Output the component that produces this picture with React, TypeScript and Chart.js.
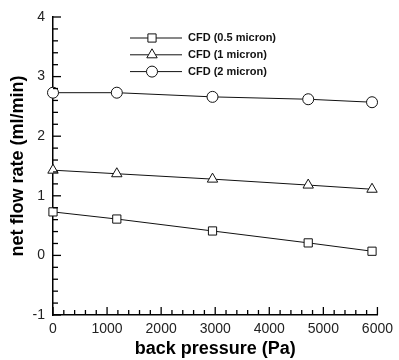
import { useEffect, useRef } from 'react';
import { Chart, registerables } from 'chart.js';

Chart.register(...registerables);

// ---- data ----
const pressures = [0, 1180, 2950, 4720, 5900];
const flow05 = [0.73, 0.61, 0.41, 0.21, 0.07];
const flow1 = [1.43, 1.37, 1.28, 1.18, 1.11];
const flow2 = [2.73, 2.73, 2.66, 2.62, 2.57];
const seriesLabels = ['CFD (0.5 micron)', 'CFD (1 micron)', 'CFD (2 micron)'];
const seriesMarkers = ['rect', 'triangle', 'circle'];
const markerRadius = [5.8, 6, 5.5];
const xTitle = 'back pressure (Pa)';
const yTitle = 'net flow rate (ml/min)';

const FONT = "'Liberation Sans', Arial, Helvetica, sans-serif";

function drawMarker(ctx: CanvasRenderingContext2D, style: string, x: number, y: number, r: number) {
  ctx.beginPath();
  if (style === 'circle') {
    ctx.arc(x, y, r, 0, Math.PI * 2);
  } else if (style === 'rect') {
    const s = Math.SQRT1_2 * r;
    ctx.rect(x - s, y - s, 2 * s, 2 * s);
  } else {
    let a = 0;
    ctx.moveTo(x + Math.sin(a) * r, y - Math.cos(a) * r);
    a += (2 * Math.PI) / 3;
    ctx.lineTo(x + Math.sin(a) * r, y - Math.cos(a) * r);
    a += (2 * Math.PI) / 3;
    ctx.lineTo(x + Math.sin(a) * r, y - Math.cos(a) * r);
    ctx.closePath();
  }
  ctx.fillStyle = '#fff';
  ctx.fill();
  ctx.stroke();
}

const innerTicks = {
  id: 'innerTicks',
  afterDraw(chart: any) {
    const ctx = chart.ctx;
    const { left, bottom } = chart.chartArea;
    const xs = chart.scales.x;
    const ys = chart.scales.y;
    ctx.save();
    ctx.strokeStyle = '#000';
    ctx.lineWidth = 1.3;
    xs.ticks.forEach((t: any) => {
      const px = xs.getPixelForValue(t.value);
      const major = Math.abs(t.value / 1000 - Math.round(t.value / 1000)) < 1e-6;
      const len = major ? 8 : 5;
      ctx.beginPath();
      ctx.moveTo(px, bottom);
      ctx.lineTo(px, bottom - len);
      ctx.stroke();
    });
    ys.ticks.forEach((t: any) => {
      const py = ys.getPixelForValue(t.value);
      const major = Math.abs(t.value - Math.round(t.value)) < 1e-6;
      const len = major ? 8 : 5;
      ctx.beginPath();
      ctx.moveTo(left, py);
      ctx.lineTo(left + len, py);
      ctx.stroke();
    });
    ctx.restore();
  },
};

const lineLegend = {
  id: 'lineLegend',
  afterDraw(chart: any) {
    const ctx = chart.ctx;
    ctx.save();
    chart.data.datasets.forEach((ds: any, i: number) => {
      const y = 38 + i * 16.8;
      ctx.strokeStyle = ds.borderColor;
      ctx.lineWidth = 1;
      ctx.beginPath();
      ctx.moveTo(130, y);
      ctx.lineTo(182, y);
      ctx.stroke();
      drawMarker(ctx, ds.pointStyle, 152, y, ds.pointRadius);
      ctx.fillStyle = '#111';
      ctx.font = `bold 11px ${FONT}`;
      ctx.textBaseline = 'middle';
      ctx.textAlign = 'left';
      ctx.fillText(ds.label, 188, y);
    });
    ctx.restore();
  },
};

export default function App() {
  const ref = useRef<HTMLCanvasElement>(null);
  useEffect(() => {
    document.body.style.margin = '0';
    const series = [flow05, flow1, flow2];
    const chart = new Chart(ref.current!, {
      type: 'scatter',
      data: {
        datasets: series.map((vals, i) => ({
          label: seriesLabels[i],
          data: pressures.map((p, j) => ({ x: p, y: vals[j] })),
          showLine: true,
          borderColor: '#111',
          borderWidth: 1,
          backgroundColor: '#fff',
          pointStyle: seriesMarkers[i] as any,
          pointRadius: markerRadius[i],
          pointBorderWidth: 1,
          pointBorderColor: '#111',
          pointBackgroundColor: '#fff',
          clip: false as any,
        })),
      },
      options: {
        animation: false,
        responsive: false,
        layout: { padding: { top: 17, right: 19, left: 0, bottom: 0 } },
        plugins: { legend: { display: false }, tooltip: { enabled: false } },
        scales: {
          x: {
            type: 'linear',
            min: 0,
            max: 6000,
            afterFit: (s: any) => { s.height = 45; },
            grid: { display: false, drawTicks: false },
            border: { display: true, color: '#000', width: 1.5 },
            ticks: {
              stepSize: 200,
              autoSkip: false,
              maxRotation: 0,
              padding: 6,
              color: '#222',
              font: { family: FONT, size: 14 },
              callback: (v: any) => (Math.abs(v / 1000 - Math.round(v / 1000)) < 1e-6 ? String(Math.round(v)) : ''),
            },
            title: {
              display: true,
              text: xTitle,
              color: '#000',
              font: { family: FONT, size: 18, weight: 'bold' },
              padding: { top: 0, bottom: 0 },
            },
          },
          y: {
            type: 'linear',
            min: -1,
            max: 4,
            afterFit: (s: any) => { s.width = 53; },
            grid: { display: false, drawTicks: false },
            border: { display: true, color: '#000', width: 1.5 },
            ticks: {
              stepSize: 0.2,
              autoSkip: false,
              padding: 8,
              color: '#222',
              font: { family: FONT, size: 14 },
              callback: (v: any) => (Math.abs(v - Math.round(v)) < 1e-6 ? String(Math.round(v)) : ''),
            },
            title: {
              display: true,
              text: yTitle,
              color: '#000',
              font: { family: FONT, size: 18, weight: 'bold' },
              padding: { top: 7, bottom: 0 },
            },
          },
        },
      },
      plugins: [innerTicks, lineLegend],
    });
    return () => chart.destroy();
  }, []);
  return <canvas ref={ref} width={399} height={360} />;
}
